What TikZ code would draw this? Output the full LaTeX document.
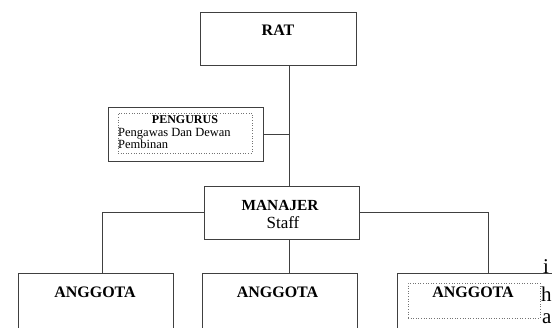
\documentclass[tikz,border=0pt]{standalone}
\usepackage{fontspec}
\setmainfont{Liberation Serif}

\tikzset{
  box/.style={draw=black!75,line width=0.9pt,minimum width=155pt,minimum height=54pt,inner sep=0pt},
  dotbox/.style={draw=black!55,dotted,line width=0.6pt,inner sep=0pt},
  hd/.style={font=\fontsize{16}{16}\selectfont\bfseries,inner sep=0pt,anchor=base},
  txt/.style={font=\fontsize{12.5}{11}\selectfont,inner sep=0pt,anchor=base west},
  wire/.style={draw=black!75,line width=0.9pt}
}

\begin{document}
\begin{tikzpicture}[x=1pt,y=-1pt]
\useasboundingbox (0,0) rectangle (552,327);
\clip (0,0) rectangle (552,327);

% boxes
\node[box,minimum width=156pt,minimum height=53pt] (rat) at (278,38.5) {};
\node[box] (peng) at (185.5,134) {};
\node[dotbox,minimum width=134pt,minimum height=40pt] (pengin) at (185,133) {};
\node[box,minimum height=53pt] (mgr) at (281.5,212.5) {};
\node[box,minimum height=70pt] (a1) at (95.5,308) {};
\node[box,minimum height=70pt] (a2) at (279.5,308) {};
\node[box,minimum width=159pt,minimum height=70pt] (a3) at (476.5,308) {};
\node[dotbox,minimum width=132pt,minimum height=35pt] (a3in) at (474,300.5) {};

% texts
\node[hd] (ratlbl) at (278,35) {RAT};
\node[hd,font=\fontsize{12}{12}\selectfont\bfseries] (penglbl) at (185,123) {PENGURUS};
\node[txt] (pengl1) at (118,136.5) {Pengawas Dan Dewan};
\node[txt] (pengl2) at (118,148) {Pembinan};
\node[hd,font=\fontsize{15.4}{15.4}\selectfont\bfseries] (mgrlbl) at (280,210) {MANAJER};
\node[hd,font=\fontsize{17}{17}\selectfont] (stafflbl) at (283,228) {Staff};
\node[hd] (a1lbl) at (95,297) {ANGGOTA};
\node[hd] (a2lbl) at (277.5,297) {ANGGOTA};
\node[hd] (a3lbl) at (473,297) {ANGGOTA};

% page text at the edge
\node[txt,font=\fontsize{21}{21}\selectfont] (edge1) at (543,273) {i};
\node[txt,font=\fontsize{21}{21}\selectfont] (edge2) at (541,301) {h};
\node[txt,font=\fontsize{21}{21}\selectfont] (edge3) at (542,323.5) {a};

% connectors
\coordinate (spine) at (289,0);
\coordinate (lft) at (102,0);
\coordinate (rgt) at (488,0);
\draw[wire] (rat.south -| spine) -- (mgr.north -| spine);
\draw[wire] (peng.east) -- (peng.east -| spine);
\draw[wire] (mgr.south -| spine) -- (a2.north -| spine);
\draw[wire] (mgr.west) -- (mgr.west -| lft) -- (a1.north -| lft);
\draw[wire] (mgr.east) -- (mgr.east -| rgt) -- (a3.north -| rgt);

\end{tikzpicture}
\end{document}
